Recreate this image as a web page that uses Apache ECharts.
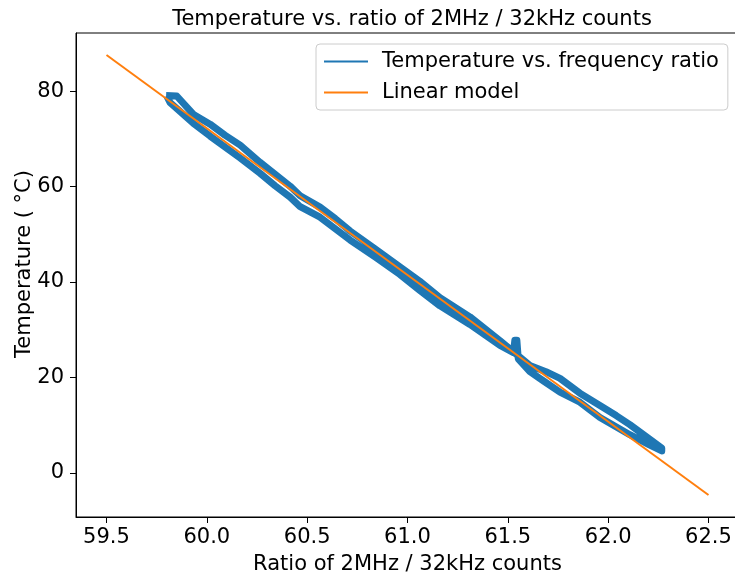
<!DOCTYPE html>
<html>
<head>
<meta charset="utf-8">
<script src="https://cdn.jsdelivr.net/npm/echarts@6/dist/echarts.min.js"></script>
<style>
html,body{margin:0;padding:0;background:#fff;}
#chart{width:735px;height:575px;}
</style>
</head>
<body>
<div id="chart"></div>
<script>
// Measured band (upper strand, traversed left to right)
var upperRatio = [59.797, 59.850, 59.932, 60.016, 60.090, 60.166, 60.265, 60.340, 60.415, 60.465, 60.564, 60.640, 60.714, 60.840, 60.962, 61.060, 61.162, 61.311, 61.461, 61.610, 61.690, 61.760, 61.859, 61.959, 62.040, 62.108, 62.208, 62.267];
var upperTemp  = [79.1, 79.0, 75.2, 73.1, 70.8, 68.7, 65.1, 62.6, 60.1, 58.1, 55.7, 53.3, 50.7, 46.9, 43.2, 40.2, 36.7, 32.7, 27.7, 22.5, 21.2, 19.8, 16.7, 14.1, 12.0, 10.1, 7.0, 5.2];
// Lower strand (traversed right to left), including the short spike near 61.54
var lowerRatio = [62.267, 62.208, 62.108, 61.959, 61.859, 61.760, 61.680, 61.610, 61.552, 61.545, 61.535, 61.528, 61.461, 61.311, 61.162, 61.060, 60.962, 60.840, 60.714, 60.564, 60.465, 60.415, 60.340, 60.265, 60.166, 60.016, 59.932, 59.817, 59.800];
var lowerTemp  = [4.6, 5.8, 8.0, 11.6, 14.8, 16.9, 19.2, 21.2, 23.9, 27.8, 27.8, 25.2, 26.7, 31.1, 35.0, 38.3, 41.6, 45.2, 48.8, 53.6, 55.8, 57.8, 60.2, 62.8, 66.0, 70.6, 73.3, 77.6, 79.0];
// Linear model
var modelRatio = [59.5, 62.5];
var modelTemp  = [87.6, -4.65];
// Tick labels
var xTicks = [59.5, 60.0, 60.5, 61.0, 61.5, 62.0, 62.5];
var yTicks = [0, 20, 40, 60, 80];

var seriesNames = ['Temperature vs. frequency ratio', 'Linear model'];

function pairs(xs, ys) { return xs.map(function (x, i) { return [x, ys[i]]; }); }
var bandData = pairs(upperRatio, upperTemp).concat(pairs(lowerRatio, lowerTemp));
var modelData = pairs(modelRatio, modelTemp);

var FONT = 'DejaVu Sans';
var FS = 21;
var chart = echarts.init(document.getElementById('chart'), null, {renderer: 'canvas'});
chart.setOption({
  animation: false,
  backgroundColor: '#ffffff',
  title: {
    text: 'Temperature vs. ratio of 2MHz / 32kHz counts',
    left: 407, top: 4, textAlign: 'center',
    textStyle: {fontFamily: FONT, fontSize: FS, fontWeight: 'normal', color: '#000'}
  },
  legend: {
    orient: 'vertical',
    left: 316, top: 44,
    padding: [7, 9, 7, 7],
    itemWidth: 44, itemHeight: 20, itemGap: 10,
    borderColor: '#cccccc', borderWidth: 1, borderRadius: 4,
    backgroundColor: 'rgba(255,255,255,0.8)',
    lineStyle: {width: 2},
    itemStyle: {opacity: 0},
    textStyle: {fontFamily: FONT, fontSize: FS, color: '#000', padding: [0, 0, 0, 9]},
    data: seriesNames
  },
  grid: {
    left: 76, top: 33, bottom: 58, right: -4,
    outerBoundsMode: 'none', containLabel: false,
    show: true, borderColor: '#000', borderWidth: 1, backgroundColor: 'transparent'
  },
  xAxis: {
    type: 'value', min: 59.348, max: 62.652,
    name: 'Ratio of 2MHz / 32kHz counts',
    nameLocation: 'middle', nameGap: 37, nameMoveOverlap: false,
    nameTextStyle: {fontFamily: FONT, fontSize: FS, color: '#000'},
    axisLine: {show: true, onZero: false, lineStyle: {color: '#000', width: 1}},
    axisTick: {show: true, length: 6, inside: false, customValues: xTicks, lineStyle: {color: '#000'}},
    axisLabel: {customValues: xTicks, margin: 10, fontFamily: FONT, fontSize: FS, color: '#000',
      formatter: function (v) { return v.toFixed(1); }},
    splitLine: {show: false}
  },
  yAxis: {
    type: 'value', min: -9.26, max: 92.21,
    name: 'Temperature ( °C)',
    nameLocation: 'middle', nameGap: 41, nameRotate: 90, nameMoveOverlap: false,
    nameTextStyle: {fontFamily: FONT, fontSize: FS, color: '#000', padding: [0, 0, 0, 22]},
    axisLine: {show: true, onZero: false, lineStyle: {color: '#000', width: 1}},
    axisTick: {show: true, length: 6, inside: false, customValues: yTicks, lineStyle: {color: '#000'}},
    axisLabel: {customValues: yTicks, margin: 12, fontFamily: FONT, fontSize: FS, color: '#000'},
    splitLine: {show: false}
  },
  series: [
    {
      name: seriesNames[0], type: 'line', data: bandData,
      symbol: 'none', showSymbol: false, smooth: false,
      color: '#1f77b4',
      lineStyle: {color: '#1f77b4', width: 7, join: 'round', cap: 'butt'},
      z: 2
    },
    {
      name: seriesNames[1], type: 'line', data: modelData,
      symbol: 'none', showSymbol: false,
      color: '#ff7f0e',
      lineStyle: {color: '#ff7f0e', width: 2},
      z: 3
    }
  ]
});
</script>
</body>
</html>
